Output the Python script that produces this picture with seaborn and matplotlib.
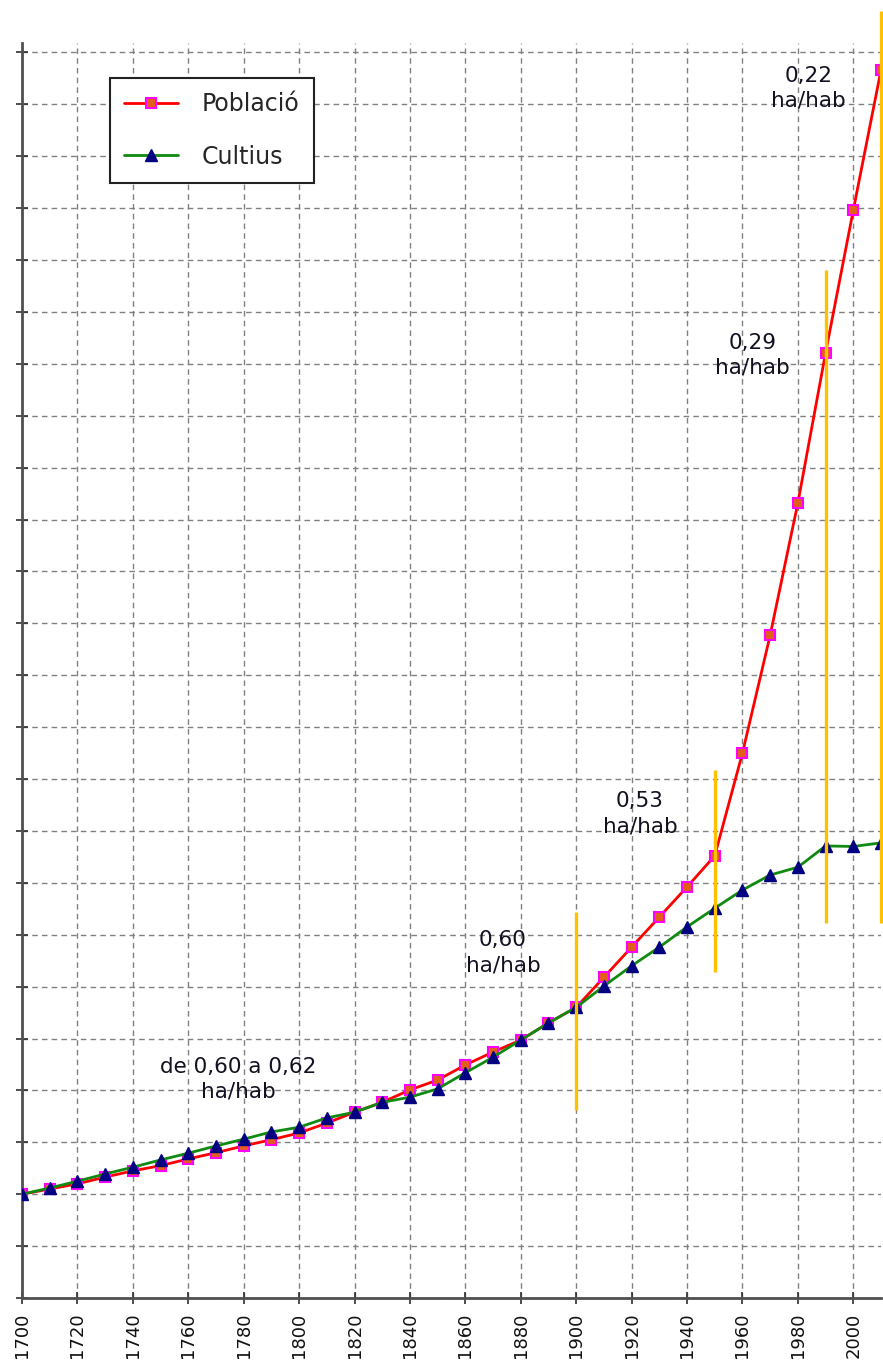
import matplotlib
matplotlib.use("Agg")
import matplotlib.pyplot as plt
import seaborn as sns
import pandas as pd
import numpy as np

years = list(range(1700, 2011, 10))
poblacio = [2.0, 2.1, 2.2, 2.33, 2.45, 2.55, 2.68, 2.8, 2.93, 3.05,
            3.18, 3.37, 3.58, 3.77, 4.01, 4.2, 4.49, 4.74, 4.97, 5.3,
            5.6, 6.18, 6.76, 7.34, 7.92, 8.52, 10.5, 12.77, 15.32, 18.21,
            20.96, 23.66]
cultius = [2.0, 2.12, 2.25, 2.39, 2.52, 2.66, 2.79, 2.93, 3.06, 3.2,
           3.29, 3.47, 3.58, 3.77, 3.87, 4.03, 4.34, 4.64, 4.97, 5.3,
           5.6, 6.01, 6.4, 6.76, 7.15, 7.51, 7.86, 8.15, 8.3, 8.71,
           8.7, 8.77]

series_names = ["Població", "Cultius"]
xtick_years = list(range(1700, 2001, 20))

yellow_x = [1900, 1950, 1990, 2010]
yellow_lo = [3.62, 6.28, 7.22, 7.22]
yellow_hi = [7.44, 10.17, 19.8, 24.8]

ann_text = ["de 0,60 a 0,62\nha/hab", "0,60\nha/hab", "0,53\nha/hab",
            "0,29\nha/hab", "0,22\nha/hab"]
ann_x = [1778, 1873.6, 1923, 1963.5, 1983.8]
ann_y = [4.22, 6.65, 9.33, 18.17, 23.31]

df = pd.DataFrame({"Any": years, series_names[0]: poblacio, series_names[1]: cultius})

sns.set_theme(style="white")
plt.rcParams["font.family"] = ["DejaVu Sans"]

fig = plt.figure(figsize=(8.83, 13.69), dpi=100)
ax = fig.add_axes([22/883, (1369-1298)/1369, 859/883, (1298-43)/1369])

sns.lineplot(data=df, x="Any", y=series_names[0], ax=ax, color="#ff0000",
             linewidth=2.0, marker="s", markersize=7, markerfacecolor="#e0601a",
             markeredgecolor="#ff00ff", markeredgewidth=1.5, label=series_names[0],
             zorder=3)
sns.lineplot(data=df, x="Any", y=series_names[1], ax=ax, color="#108a10",
             linewidth=2.0, marker="^", markersize=8, markerfacecolor="#000080",
             markeredgecolor="#000080", markeredgewidth=1, label=series_names[1],
             zorder=4)

ax.vlines(yellow_x, yellow_lo, yellow_hi, colors="#ffc000", linewidth=2.4,
          zorder=5, clip_on=False)

for t, x, y in zip(ann_text, ann_x, ann_y):
    ax.text(x, y, t, ha="center", va="center", fontsize=15.5, color="#111122",
            linespacing=1.3, zorder=6)

ax.set_xlim(1700, 2010)
ax.set_ylim(0, (1298-43)/51.9)
ax.set_xticks(xtick_years)
ax.set_xticklabels([str(y) for y in xtick_years], rotation=90, fontsize=13)
ax.set_yticks(np.arange(0, 25, 1))
ax.set_yticklabels([])
ax.set_xlabel("")
ax.set_ylabel("")

ax.grid(True, which="major", color="#808080", linestyle=(0, (4, 3)), linewidth=1.0)
ax.set_axisbelow(True)

for s in ["top", "right"]:
    ax.spines[s].set_visible(False)
for s in ["left", "bottom"]:
    ax.spines[s].set_color("#505050")
    ax.spines[s].set_linewidth(2.0)

ax.tick_params(axis="both", direction="inout", length=9, width=1.2, color="#303030",
               left=True, bottom=True)
ax.tick_params(axis="x", pad=6, labelcolor="#111111")

leg = ax.legend(loc="upper left", bbox_to_anchor=(88/859, (1298-78)/1255),
                fontsize=17, frameon=True, fancybox=False, edgecolor="#222222",
                framealpha=1, borderpad=0.6, labelspacing=1.2, handlelength=2.3,
                handletextpad=1.0, borderaxespad=0)
leg.get_frame().set_linewidth(1.5)

fig.savefig("out.png", dpi=100)
